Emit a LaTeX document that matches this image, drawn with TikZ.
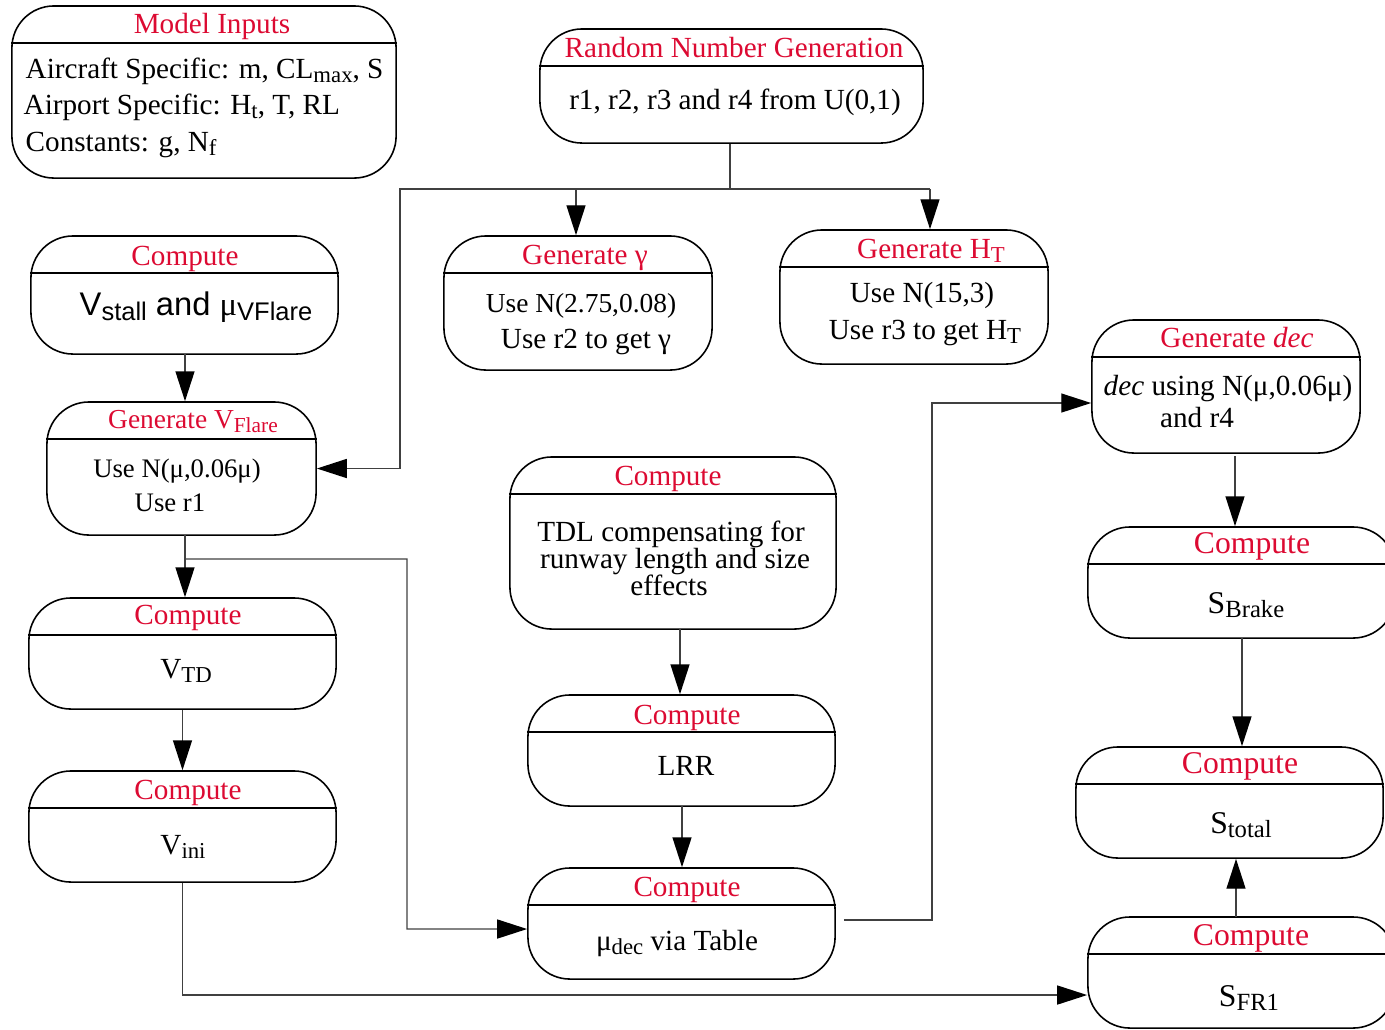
\documentclass[tikz,border=0pt]{standalone}
\usepackage{fontspec}
\setmainfont{Liberation Serif}
\setsansfont{Liberation Sans}
\usepackage{graphicx}
\usetikzlibrary{arrows.meta}
\definecolor{ttlred}{RGB}{220,10,50}
% lowered, reduced subscript in text
\newcommand\lw[1]{\raisebox{-0.32ex}{\scalebox{0.78}{#1}}}
% header rule of a box, #2 = distance below the top edge
\newcommand\hdrline[2]{\draw[hdr] ([yshift=-#2]#1.north west) -- ([yshift=-#2]#1.north east);}
\begin{document}
\begin{tikzpicture}[x=0.01cm,y=-0.01cm,
  box/.style={draw, line width=0.45pt, rounded corners=0.42cm, inner sep=0pt},
  hdr/.style={line width=0.45pt},
  ttl/.style={text=ttlred, font=\fontsize{8.3}{9}\selectfont, anchor=base, inner sep=0pt},
  ttlbig/.style={ttl, font=\fontsize{9}{10}\selectfont},
  txt/.style={font=\fontsize{8.3}{9}\selectfont, anchor=base, inner sep=0pt},
  txtbig/.style={txt, font=\fontsize{9}{10}\selectfont},
  ln/.style={draw=black!75, line width=0.4pt},
  arr/.style={ln, -{Triangle[length=8.5pt,width=5.4pt,color=black]}}]
\useasboundingbox (0,0) rectangle (1385,1029);
\clip (0,0) rectangle (1385,1029);

% ---------------- boxes ----------------
\node[box, minimum width=3.84cm, minimum height=1.72cm] (mi)   at (204,92)    {};
\node[box, minimum width=3.83cm, minimum height=1.14cm] (rng)  at (731.5,86)  {};
\node[box, minimum width=3.07cm, minimum height=1.18cm] (vs)   at (184.5,295) {};
\node[box, minimum width=2.69cm, minimum height=1.33cm] (vf)   at (181.5,468.5) {};
\node[box, minimum width=2.68cm, minimum height=1.34cm] (gg)   at (578,303)   {};
\node[box, minimum width=2.68cm, minimum height=1.34cm] (ht)   at (914,297)   {};
\node[box, minimum width=2.68cm, minimum height=1.33cm] (dec)  at (1226,386.5) {};
\node[box, minimum width=3.26cm, minimum height=1.72cm] (tdl)  at (673,543)   {};
\node[box, minimum width=3.07cm, minimum height=1.11cm] (vtd)  at (182.5,653.5) {};
\node[box, minimum width=3.07cm, minimum height=1.11cm] (vini) at (182.5,826.5) {};
\node[box, minimum width=3.07cm, minimum height=1.11cm] (lrr)  at (681.5,750.5) {};
\node[box, minimum width=3.07cm, minimum height=1.11cm] (mud)  at (681.5,923.5) {};
\node[box, minimum width=3.07cm, minimum height=1.11cm] (sb)   at (1241.5,582.5) {};
\node[box, minimum width=3.07cm, minimum height=1.11cm] (st)   at (1229.5,802.5) {};
\node[box, minimum width=3.07cm, minimum height=1.11cm] (sf)   at (1241.5,972.5) {};

\foreach \b in {mi,rng,vs,vf,gg,ht,dec,tdl,vtd,vini,lrr,mud,sb,st,sf}{\hdrline{\b}{0.38cm}}

% ---------------- titles ----------------
\node[ttl] (mi-t)   at (212,33)  {Model Inputs};
\node[ttl] (rng-t)  at (734,57)  {Random Number Generation};
\node[ttl] (vs-t)   at (185,265) {Compute};
\node[ttl, font=\fontsize{7.8}{9}\selectfont] (vf-t) at (193,428) {Generate V\lw{Flare}};
\node[ttl] (gg-t)   at (585,264) {Generate γ};
\node[ttl] (ht-t)   at (931,258) {Generate H\lw{T}};
\node[ttl] (dec-t)  at (1237,347) {Generate \textit{dec}};
\node[ttl] (tdl-t)  at (668,485) {Compute};
\node[ttl] (vtd-t)  at (188,624) {Compute};
\node[ttl] (vini-t) at (188,799) {Compute};
\node[ttl] (lrr-t)  at (687,724) {Compute};
\node[ttl] (mud-t)  at (687,896) {Compute};
\node[ttlbig] (sb-t) at (1252,553) {Compute};
\node[ttlbig] (st-t) at (1240,773) {Compute};
\node[ttlbig] (sf-t) at (1251,945) {Compute};

% ---------------- contents ----------------
\node[txt, anchor=base west] (mi-1) at (25,78)  {Aircraft Specific: m, CL\lw{max}, S};
\node[txt, anchor=base west] (mi-2) at (23,114) {Airport Specific: H\lw{t}, T, RL};
\node[txt, anchor=base west] (mi-3) at (25,151) {Constants: g, N\lw{f}};
\node[txt] (rng-1) at (735,109) {r1, r2, r3 and r4 from U(0,1)};
\node[txt, font=\sffamily\fontsize{9.3}{11}\selectfont] (vs-1) at (196,315) {V\lw{stall} and {\rmfamily μ}\lw{VFlare}};
\node[txt, font=\fontsize{7.6}{9}\selectfont] (vf-1) at (177,477) {Use N(μ,0.06μ)};
\node[txt, font=\fontsize{7.6}{9}\selectfont] (vf-2) at (170,511) {Use r1};
\node[txt, font=\fontsize{7.8}{9}\selectfont] (gg-1) at (581,312) {Use N(2.75,0.08)};
\node[txt] (gg-2) at (586,348) {Use r2 to get γ};
\node[txt] (ht-1) at (922,302) {Use N(15,3)};
\node[txt] (ht-2) at (925,339) {Use r3 to get H\lw{T}};
\node[txt] (dec-1) at (1228,395) {\textit{dec} using N(μ,0.06μ)};
\node[txt] (dec-2) at (1197,427) {and r4};
\node[txt] (tdl-1) at (671,541) {TDL compensating for};
\node[txt] (tdl-2) at (675,568) {runway length and size};
\node[txt] (tdl-3) at (669,595) {effects};
\node[txt] (vtd-1) at (186,678) {V\lw{TD}};
\node[txt] (vini-1) at (183,854) {V\lw{ini}};
\node[txt] (lrr-1) at (686,775) {LRR};
\node[txt] (mud-1) at (677,950) {μ\lw{dec} via Table};
\node[txtbig] (sb-1) at (1246,613) {S\lw{Brake}};
\node[txtbig] (st-1) at (1241,833) {S\lw{total}};
\node[txtbig] (sf-1) at (1249,1006) {S\lw{FR1}};

% ---------------- connectors ----------------
\coordinate (busL) at (400,189);
\coordinate (busM) at (730,189);
\coordinate (busR) at (930,189);
\coordinate (busG) at (576,189);
\draw[ln] (rng.south -| busM) -- (busM);
\draw[arr] (busR) -- (busL) -- (busL |- vf.east) -- (vf.east);
\draw[arr] (busR) -- (busR |- ht.north);
\draw[arr] (busG) -- (busG |- gg.north);

\coordinate (vsout) at (185,354);
\draw[arr] (vsout) -- (vsout |- vf.north);
\coordinate (vfout) at (185,535);
\coordinate (br) at (185,559);
\coordinate (k2) at (407,559);
\draw[arr] (vfout) -- (vfout |- vtd.north);
\draw[arr] (br) -- (k2) -- (k2 |- 0,929) -- ([yshift=-0.055cm]mud.west);
\draw[arr] (vtd.south) -- (vtd.south |- vini.north);
\draw[arr] (vini.south) |- ([yshift=-0.225cm]sf.west);

\coordinate (tdlout) at (680,629);
\draw[arr] (tdlout) -- (tdlout |- lrr.north);
\coordinate (lrrout) at (682,806);
\draw[arr] (lrrout) -- (lrrout |- mud.north);
\coordinate (k3) at (932,403);
\draw[arr] ([xshift=0.08cm,yshift=0.035cm]mud.east) -| (k3) -- (k3 -| dec.west);

\coordinate (decout) at (1235,456);
\draw[arr] (decout) -- (decout |- sb.north);
\coordinate (sbout) at (1242,638);
\draw[arr] (sbout) -- (sbout |- st.north);
\coordinate (sfin) at (1236,917);
\draw[arr] (sfin) -- (sfin |- st.south);
\end{tikzpicture}
\end{document}
